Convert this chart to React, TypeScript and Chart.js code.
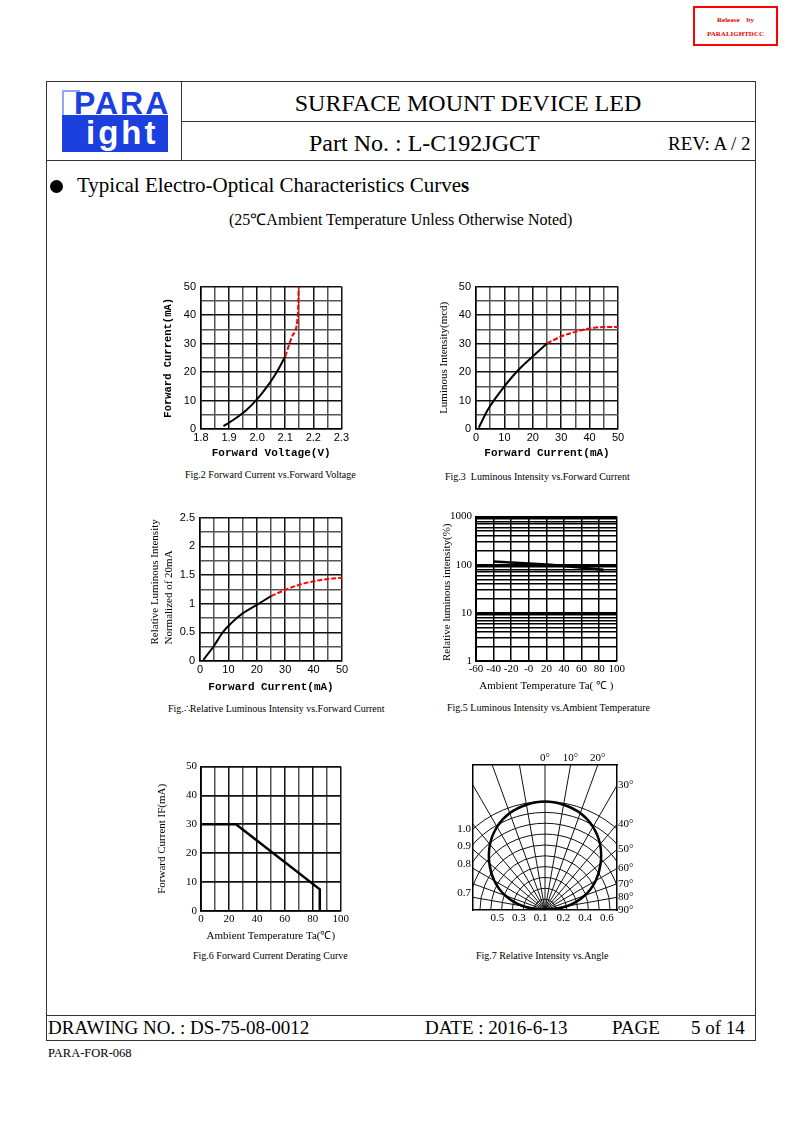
import React, { useEffect, useRef } from 'react';
import { Chart, registerables } from 'chart.js';
Chart.register(...registerables);

const SANS = '"Liberation Sans", Arial, sans-serif';
const SERIF = '"Liberation Serif", "Times New Roman", serif';
const MONO = '"Liberation Mono", "Courier New", monospace';

// ---------- Fig.2 Forward Current vs Forward Voltage
const fig2VoltBlack = [1.88, 1.92, 1.96, 2.0, 2.04, 2.07, 2.1];
const fig2CurrBlack = [1, 3.5, 6.5, 10.5, 15.5, 20, 25.5];
const fig2VoltRed = [2.1, 2.127, 2.145, 2.148];
const fig2CurrRed = [25.5, 33, 40, 50];

// ---------- Fig.3 Luminous Intensity vs Forward Current
const fig3CurrBlack = [1, 4, 7, 10, 15, 20, 25];
const fig3LumBlack = [0.5, 6.5, 11, 15, 20.8, 25.5, 30];
const fig3CurrRed = [25, 30, 35, 40, 45, 50];
const fig3LumRed = [30, 32.5, 34.1, 35.3, 35.8, 35.8];

// ---------- Fig.4 Relative Luminous Intensity vs Forward Current
const fig4CurrBlack = [1.2, 5, 8, 11, 15, 20, 25];
const fig4RelBlack = [0.02, 0.27, 0.5, 0.66, 0.83, 0.98, 1.13];
const fig4CurrRed = [25, 30, 35, 40, 45, 50];
const fig4RelRed = [1.13, 1.24, 1.33, 1.39, 1.43, 1.45];

// ---------- Fig.5 Luminous Intensity vs Ambient Temperature
const fig5Temp = [-40, 25, 85];
const fig5Rel = [117, 100, 79];
const fig5XLabels = ['-60', '-40', '-20', '-0', '20', '40', '60', '80', '100'];
const fig5YGrid = [1, 2, 3, 4, 5, 6, 7, 8, 9, 10, 20, 30, 40, 50, 60, 70, 80, 90, 100, 200, 300, 400, 500, 600, 700, 800, 900, 1000];
const fig5YLabels = [1, 10, 100, 1000];

// ---------- Fig.6 Forward Current Derating Curve
const fig6Temp = [0, 25, 85, 85];
const fig6Curr = [30, 30, 7.5, 0];

// ---------- Fig.7 Relative Intensity vs Angle
const fig7Angle = [-90, -80, -70, -60, -50, -40, -30, -20, -10, 0, 10, 20, 30, 40, 50, 60, 70, 80, 90];
const fig7Rel = [0, 0.21, 0.39, 0.54, 0.67, 0.79, 0.885, 0.95, 0.985, 1, 0.985, 0.95, 0.885, 0.79, 0.67, 0.54, 0.39, 0.21, 0];
const fig7ArcRadii = [0.1, 0.2, 0.3, 0.4, 0.5, 0.6, 0.7, 0.8, 0.9, 1.0];
const fig7SpokeAngles = [-90, -80, -70, -60, -50, -40, -30, -20, -10, 0, 10, 20, 30, 40, 50, 60, 70, 80, 90];
const fig7TopAngles = [0, 10, 20];
const fig7RightAngles = [30, 40, 50, 60, 70, 80, 90];
const fig7LeftLabels = ['1.0', '0.9', '0.8', '0.7'];
const fig7LeftPos = [0.747, 0.59, 0.424, 0.157];
const fig7BottomLabels = ['0.5', '0.3', '0.1', '0.2', '0.4', '0.6'];
const fig7BottomPos = [-0.44, -0.24, -0.04, 0.17, 0.37, 0.57];
const fig7XMax = 0.664;
const fig7YMax = 1.336;

const zip = (xs: number[], ys: number[]) => xs.map((x, i) => ({ x, y: ys[i] }));
const rad = (d: number) => (d * Math.PI) / 180;

function lineDs(xs: number[], ys: number[], color: string, dashed: boolean, width = 2, smooth = true) {
  return {
    data: zip(xs, ys),
    showLine: true,
    borderColor: color,
    backgroundColor: color,
    borderWidth: width,
    borderDash: dashed ? [5, 2] : [],
    pointRadius: 0,
    tension: 0,
    cubicInterpolationMode: smooth ? 'monotone' : 'default',
  };
}

function axis(a: any, horizontal: boolean) {
  return {
    type: a.type || 'linear',
    position: horizontal ? 'bottom' : 'left',
    min: a.min,
    max: a.max,
    afterFit: (s: any) => {
      if (horizontal) s.height = a.size;
      else s.width = a.size;
    },
    afterBuildTicks: a.ticksList
      ? (s: any) => {
          s.ticks = a.ticksList.map((v: number) => ({ value: v }));
        }
      : undefined,
    ticks: {
      stepSize: a.step,
      autoSkip: false,
      maxRotation: 0,
      minRotation: 0,
      padding: a.tickPad,
      color: '#000',
      font: a.tickFont,
      callback: (v: any, i: number) => a.label(Number(v), i),
    },
    grid: {
      drawTicks: false,
      color: (c: any) => a.color(c.tick ? c.tick.value : 0),
      lineWidth: (c: any) => (typeof a.lw === 'function' ? a.lw(c.tick ? c.tick.value : 0) : a.lw),
    },
    border: { color: '#000', width: a.bw },
    title: {
      display: true,
      text: a.title,
      color: '#000',
      font: a.titleFont,
      align: a.align || 'center',
      padding: horizontal ? { top: 0, bottom: a.titlePad } : { top: a.titlePad, bottom: 0 },
    },
  };
}

function gridChart(datasets: any[], x: any, y: any, pad: any) {
  return {
    type: 'scatter',
    data: { datasets },
    options: {
      responsive: false,
      animation: false,
      layout: { padding: pad },
      plugins: { legend: { display: false }, tooltip: { enabled: false } },
      scales: { x: axis(x, true), y: axis(y, false) },
    },
  };
}

const is = (v: number, m: number) => Math.abs(v / m - Math.round(v / m)) < 1e-6;
const majorMinor = (m: number) => (v: number) => (is(v, m) ? '#111' : '#555');

const sansTick = { family: SANS, size: 11 };
const serifTick = { family: SERIF, size: 11 };
const monoTitle = { family: MONO, size: 11, weight: 'bold' };

function fig2Config() {
  return gridChart(
    [lineDs(fig2VoltBlack, fig2CurrBlack, '#000', false), lineDs(fig2VoltRed, fig2CurrRed, '#f00', true)],
    {
      min: 1.8, max: 2.3, step: 0.05, size: 36, tickPad: 2, tickFont: sansTick,
      label: (v: number) => (is(v, 0.1) ? v.toFixed(1) : ''),
      color: majorMinor(0.1), lw: 1.5, bw: 1.5,
      title: 'Forward Voltage(V)', titleFont: monoTitle, titlePad: 5,
    },
    {
      min: 0, max: 50, step: 5, size: 51, tickPad: 5, tickFont: sansTick,
      label: (v: number) => (is(v, 10) ? String(Math.round(v)) : ''),
      color: majorMinor(10), lw: 1.5, bw: 1.5,
      title: 'Forward Current(mA)', titleFont: { family: MONO, size: 10.5, weight: 'bold' }, titlePad: 12,
    },
    { top: 8, right: 9, left: 0, bottom: 0 }
  );
}

function fig3Config() {
  return gridChart(
    [lineDs(fig3CurrBlack, fig3LumBlack, '#000', false), lineDs(fig3CurrRed, fig3LumRed, '#f00', true)],
    {
      min: 0, max: 50, step: 5, size: 36, tickPad: 2, tickFont: sansTick,
      label: (v: number) => (is(v, 10) ? String(Math.round(v)) : ''),
      color: majorMinor(10), lw: 1.5, bw: 1.5,
      title: 'Forward Current(mA)', titleFont: monoTitle, titlePad: 5,
    },
    {
      min: 0, max: 50, step: 5, size: 51, tickPad: 5, tickFont: sansTick,
      label: (v: number) => (is(v, 10) ? String(Math.round(v)) : ''),
      color: majorMinor(10), lw: 1.5, bw: 1.5,
      title: 'Luminous Intensity(mcd)', titleFont: { family: SERIF, size: 11 }, titlePad: 13,
    },
    { top: 8, right: 9, left: 0, bottom: 0 }
  );
}

function fig4Config() {
  return gridChart(
    [lineDs(fig4CurrBlack, fig4RelBlack, '#000', false), lineDs(fig4CurrRed, fig4RelRed, '#f00', true)],
    {
      min: 0, max: 50, step: 5, size: 36, tickPad: 2, tickFont: sansTick,
      label: (v: number) => (is(v, 10) ? String(Math.round(v)) : ''),
      color: majorMinor(10), lw: 1.5, bw: 1.5,
      title: 'Forward Current(mA)', titleFont: monoTitle, titlePad: 3,
    },
    {
      min: 0, max: 2.5, step: 0.25, size: 60, tickPad: 5, tickFont: sansTick,
      label: (v: number) => (is(v, 0.5) ? String(Math.round(v * 10) / 10) : ''),
      color: majorMinor(0.5), lw: 1.5, bw: 1.5,
      title: ['      Relative Luminous Intensity', '      Normalized of 20mA'],
      titleFont: { family: SERIF, size: 11, lineHeight: 1.3 }, titlePad: 8, align: 'start',
    },
    { top: 10, right: 9, left: 0, bottom: 0 }
  );
}

function fig5Config() {
  return gridChart(
    [lineDs(fig5Temp, fig5Rel, '#000', false, 2.5, false)],
    {
      min: -60, max: 100, step: 20, size: 36, tickPad: 2, tickFont: serifTick,
      label: (_v: number, i: number) => fig5XLabels[i] ?? '',
      color: () => '#000', lw: 1.5, bw: 1.5,
      title: 'Ambient Temperature Ta( ℃ )', titleFont: { family: SERIF, size: 11 }, titlePad: 4,
    },
    {
      type: 'logarithmic', min: 1, max: 1000, size: 46, tickPad: 4, tickFont: serifTick,
      ticksList: fig5YGrid,
      label: (v: number) => (fig5YLabels.includes(v) ? String(v) : ''),
      color: () => '#000', lw: (v: number) => (fig5YLabels.includes(v) ? 2 : 1.4), bw: 2,
      title: 'Relative luminous intensity(%)', titleFont: { family: SERIF, size: 11 }, titlePad: 11, align: 'start',
    },
    { top: 10, right: 9, left: 0, bottom: 0 }
  );
}

function fig6Config() {
  return gridChart(
    [lineDs(fig6Temp, fig6Curr, '#000', false, 2.5, false)],
    {
      min: 0, max: 100, step: 10, size: 35, tickPad: 2, tickFont: serifTick,
      label: (v: number) => (is(v, 20) ? String(Math.round(v)) : ''),
      color: majorMinor(20), lw: 1.5, bw: 1.5,
      title: 'Ambient Temperature Ta(℃)', titleFont: { family: SERIF, size: 11 }, titlePad: 3,
    },
    {
      min: 0, max: 50, step: 10, size: 51, tickPad: 4, tickFont: serifTick,
      label: (v: number) => String(Math.round(v)),
      color: () => '#111', lw: 1.8, bw: 1.8,
      title: 'Forward Current IF(mA)', titleFont: { family: SERIF, size: 11 }, titlePad: 6,
    },
    { top: 10, right: 9, left: 0, bottom: 0 }
  );
}

const polarGrid = {
  id: 'polarGrid',
  beforeDatasetsDraw(chart: any) {
    const { ctx, chartArea: a, scales } = chart;
    const x = scales.x;
    const y = scales.y;
    const cx = x.getPixelForValue(0);
    const cy = y.getPixelForValue(0);
    const u = x.getPixelForValue(1) - cx;
    ctx.save();
    ctx.beginPath();
    ctx.rect(a.left, a.top, a.right - a.left, a.bottom - a.top);
    ctx.clip();
    ctx.strokeStyle = '#111';
    ctx.lineWidth = 1;
    for (const r of fig7ArcRadii) {
      ctx.beginPath();
      ctx.arc(cx, cy, r * u, Math.PI, 2 * Math.PI);
      ctx.stroke();
    }
    for (const d of fig7SpokeAngles) {
      const t = rad(d);
      ctx.beginPath();
      ctx.moveTo(cx, cy);
      ctx.lineTo(cx + Math.sin(t) * 3 * u, cy - Math.cos(t) * 3 * u);
      ctx.stroke();
    }
    ctx.restore();
  },
};

function fig7Axis(position: string, size: number, min: number, max: number, values: number[], labels: string[], pad: number) {
  const horizontal = position === 'top' || position === 'bottom';
  return {
    type: 'linear',
    position,
    min,
    max,
    afterFit: (s: any) => {
      if (horizontal) s.height = size;
      else s.width = size;
    },
    afterBuildTicks: (s: any) => {
      s.ticks = values.map((v) => ({ value: v }));
    },
    ticks: {
      autoSkip: false,
      maxRotation: 0,
      minRotation: 0,
      padding: pad,
      color: '#000',
      font: serifTick,
      callback: (_v: any, i: number) => labels[i],
    },
    grid: { display: false, drawTicks: false },
    border: { color: '#000', width: 1.5 },
  };
}

function fig7Config() {
  return {
    type: 'scatter',
    data: {
      datasets: [
        {
          data: fig7Angle.map((d, i) => ({ x: fig7Rel[i] * Math.sin(rad(d)), y: fig7Rel[i] * Math.cos(rad(d)) })),
          showLine: true,
          borderColor: '#000',
          borderWidth: 2.5,
          pointRadius: 0,
          tension: 0.4,
          xAxisID: 'x',
          yAxisID: 'y',
        },
      ],
    },
    plugins: [polarGrid],
    options: {
      responsive: false,
      animation: false,
      layout: { padding: 0 },
      plugins: { legend: { display: false }, tooltip: { enabled: false } },
      scales: {
        x: fig7Axis('bottom', 20, -fig7XMax, fig7XMax, fig7BottomPos, fig7BottomLabels, 2),
        xTop: fig7Axis('top', 17, -fig7XMax, fig7XMax, fig7TopAngles.map((d) => fig7YMax * Math.tan(rad(d))), fig7TopAngles.map((d) => d + '°'), 0),
        y: fig7Axis('left', 33, 0, fig7YMax, fig7LeftPos, fig7LeftLabels, 2),
        yRight: fig7Axis('right', 28, 0, fig7YMax, fig7RightAngles.map((d) => fig7XMax / Math.tan(rad(d))), fig7RightAngles.map((d) => d + '°'), 1),
      },
    },
  };
}

function ChartBox({ left, top, width, height, make }: { left: number; top: number; width: number; height: number; make: () => any }) {
  const ref = useRef<HTMLCanvasElement>(null);
  useEffect(() => {
    const c = new Chart(ref.current as HTMLCanvasElement, make());
    return () => c.destroy();
  }, []);
  return (
    <canvas
      ref={ref}
      width={width}
      height={height}
      style={{ position: 'absolute', left, top, width, height }}
    />
  );
}

function T({ x, y, s, children, style }: any) {
  return (
    <div
      style={{
        position: 'absolute',
        left: x,
        top: y,
        fontSize: s,
        lineHeight: 1,
        whiteSpace: 'pre',
        fontFamily: SERIF,
        color: '#000',
        ...style,
      }}
    >
      {children}
    </div>
  );
}

function Line({ x, y, w, h }: { x: number; y: number; w: number; h: number }) {
  return <div style={{ position: 'absolute', left: x, top: y, width: w, height: h, background: '#333' }} />;
}

export default function App() {
  return (
    <div style={{ position: 'absolute', left: 0, top: 0, width: 793, height: 1123, background: '#fff', overflow: 'hidden', fontFamily: SERIF }}>
      {/* release stamp */}
      <div style={{ position: 'absolute', left: 693, top: 6, width: 81, height: 36, border: '2px solid #f00' }} />
      <T x={693} y={17} s={7} style={{ width: 85, textAlign: 'center', color: '#e00', fontWeight: 'bold' }}>{'Release    by'}</T>
      <T x={693} y={31} s={7} style={{ width: 85, textAlign: 'center', color: '#e00', fontWeight: 'bold' }}>PARALIGHTDCC</T>

      {/* frame */}
      <Line x={46} y={81} w={710} h={1} />
      <Line x={46} y={81} w={1} h={960} />
      <Line x={755} y={81} w={1} h={960} />
      <Line x={181} y={81} w={1} h={80} />
      <Line x={181} y={121} w={575} h={1} />
      <Line x={46} y={160} w={710} h={1} />
      <Line x={46} y={1015} w={710} h={1} />
      <Line x={46} y={1040} w={710} h={1} />

      {/* logo */}
      <div style={{ position: 'absolute', left: 62, top: 90, width: 16, height: 24, borderLeft: '2px solid #8fa8ff', borderTop: '2px solid #8fa8ff', borderBottom: '2px solid #8fa8ff' }} />
      <T x={74} y={87} s={32} style={{ fontFamily: SANS, fontWeight: 'bold', color: '#1c3fe0', letterSpacing: 2 }}>PARA</T>
      <div style={{ position: 'absolute', left: 62, top: 115, width: 106, height: 37, background: '#1c3fe0' }} />
      <T x={86} y={116} s={33} style={{ fontFamily: SANS, fontWeight: 'bold', color: '#fff', letterSpacing: 3 }}>ight</T>

      {/* header texts */}
      <T x={181} y={91} s={24} style={{ width: 574, textAlign: 'center' }}>SURFACE MOUNT DEVICE LED</T>
      <T x={309} y={131} s={24}>Part No. : L-C192JGCT</T>
      <T x={668} y={133.5} s={19}>REV: A / 2</T>

      <div style={{ position: 'absolute', left: 50, top: 180, width: 13, height: 13, borderRadius: '50%', background: '#000' }} />
      <T x={77} y={175} s={21}>
        Typical Electro-Optical Characteristics Curve<b>s</b>
      </T>
      <T x={229} y={212} s={16}>(25℃Ambient Temperature Unless Otherwise Noted)</T>

      {/* charts */}
      <ChartBox left={150} top={275} width={201} height={190} make={fig2Config} />
      <ChartBox left={425} top={275} width={202} height={190} make={fig3Config} />
      <ChartBox left={140} top={506} width={211} height={191} make={fig4Config} />
      <ChartBox left={430} top={506} width={197} height={191} make={fig5Config} />
      <ChartBox left={150} top={756} width={201} height={190} make={fig6Config} />
      <ChartBox left={440} top={748} width={205} height={182} make={fig7Config} />

      {/* captions */}
      <T x={185} y={470} s={10}>Fig.2 Forward Current vs.Forward Voltage</T>
      <T x={445} y={472} s={10}>{'Fig.3  Luminous Intensity vs.Forward Current'}</T>
      <T x={168} y={704} s={10}>Fig.∴Relative Luminous Intensity vs.Forward Current</T>
      <T x={447} y={703} s={10}>Fig.5 Luminous Intensity vs.Ambient Temperature</T>
      <T x={193} y={951} s={10}>Fig.6 Forward Current Derating Curve</T>
      <T x={476} y={951} s={10}>Fig.7 Relative Intensity vs.Angle</T>

      {/* footer */}
      <T x={48} y={1018} s={19}>DRAWING NO. : DS-75-08-0012</T>
      <T x={425} y={1018} s={19}>DATE : 2016-6-13</T>
      <T x={612} y={1018} s={19}>PAGE</T>
      <T x={691} y={1018} s={19}>5 of 14</T>
      <T x={48} y={1047} s={12.5}>PARA-FOR-068</T>
    </div>
  );
}
